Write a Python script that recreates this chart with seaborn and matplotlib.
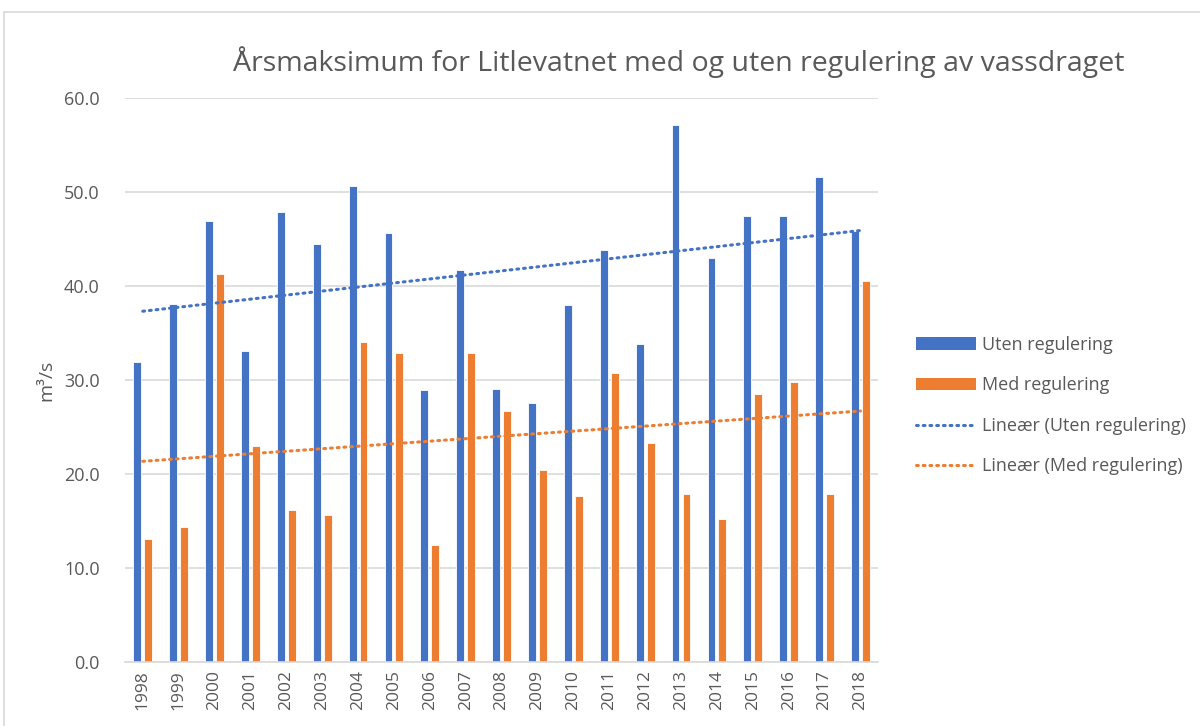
import numpy as np
import pandas as pd
import matplotlib
matplotlib.use("Agg")
import matplotlib.pyplot as plt
import seaborn as sns
from matplotlib.patches import Patch
from matplotlib.lines import Line2D


YEARS = [str(y) for y in range(1998, 2019)]
UTEN = [31.9, 38.1, 46.9, 33.1, 47.9, 44.5, 50.6, 45.6, 28.9, 41.7, 29.1,
        27.6, 38.0, 43.8, 33.8, 57.1, 43.0, 47.4, 47.4, 51.6, 45.9]
MED = [13.1, 14.4, 41.3, 23.0, 16.2, 15.6, 34.1, 32.9, 12.5, 32.9, 26.7,
       20.4, 17.7, 30.8, 23.3, 17.9, 15.2, 28.5, 29.8, 17.9, 40.5]
SERIES = ["Uten regulering", "Med regulering"]
COLORS = ["#4472C4", "#ED7D31"]
TEXT = "#595959"
GRID = "#D9D9D9"
DOTS = (0, (0.6, 1.6))


def build_frame():
    """Long format table for seaborn."""
    df = pd.DataFrame({"Year": YEARS, SERIES[0]: UTEN, SERIES[1]: MED})
    return df.melt(id_vars="Year", var_name="Serie", value_name="Flow")


def main():
    sns.set_theme(style="white")
    plt.rcParams["font.family"] = ["Open Sans", "DejaVu Sans"]

    fig = plt.figure(figsize=(12, 7.26), dpi=100)
    ax = fig.add_axes([0.104, 0.088, 0.628, 0.777])

    df = build_frame()
    sns.barplot(data=df, x="Year", y="Flow", hue="Serie", palette=COLORS,
                saturation=1, width=0.61, gap=0.28, edgecolor="white",
                linewidth=0.6, legend=False, ax=ax)

    # linear trend lines (Excel "Lineær")
    x = np.arange(len(YEARS))
    for vals, col in zip([UTEN, MED], COLORS):
        k, m = np.polyfit(x, vals, 1)
        ax.plot(x, k * x + m, color=col, linestyle=DOTS,
                linewidth=2.2, dash_capstyle="round", zorder=3)

    ax.set_ylim(0, 60)
    ax.set_xlim(-0.5, len(YEARS) - 0.5)
    ax.set_yticks(np.arange(0, 61, 10))
    ax.set_yticklabels([f"{v:.1f}" for v in np.arange(0, 61, 10)],
                       color=TEXT, fontsize=13)
    ax.tick_params(axis="x", rotation=90, labelsize=12.5, colors=TEXT,
                   length=0, pad=6)
    ax.tick_params(axis="y", length=0, pad=18)
    ax.grid(axis="y", color=GRID, linewidth=1.2)
    ax.set_axisbelow(True)
    for side in ["top", "right", "left"]:
        ax.spines[side].set_visible(False)
    ax.spines["bottom"].set_color(GRID)
    ax.spines["bottom"].set_linewidth(1.2)
    ax.set_xlabel("")
    ax.set_ylabel("m³/s", color=TEXT, fontsize=14, labelpad=6)

    fig.text(0.566, 0.914, "Årsmaksimum for Litlevatnet med og uten regulering av vassdraget",
             ha="center", va="center", fontsize=20.5, color=TEXT)

    handles = [
        Patch(facecolor=COLORS[0], edgecolor="none"),
        Patch(facecolor=COLORS[1], edgecolor="none"),
        Line2D([], [], color=COLORS[0], linestyle=DOTS, linewidth=2.2,
               dash_capstyle="round"),
        Line2D([], [], color=COLORS[1], linestyle=DOTS, linewidth=2.2,
               dash_capstyle="round"),
    ]
    labels = SERIES + ["Lineær (Uten regulering)", "Lineær (Med regulering)"]
    leg = fig.legend(handles, labels, loc="upper left",
                     bbox_to_anchor=(0.750, 0.560), frameon=False,
                     fontsize=13, handlelength=3.3, handletextpad=0.35,
                     labelspacing=1.25)
    for t in leg.get_texts():
        t.set_color(TEXT)

    # chart area border
    fig.add_artist(Line2D([0.0035, 1], [1 - 12 / 726] * 2, color=GRID,
                          linewidth=1.2, transform=fig.transFigure))
    fig.add_artist(Line2D([0.0035] * 2, [0, 1 - 12 / 726], color=GRID,
                          linewidth=1.2, transform=fig.transFigure))

    fig.savefig("out.png", dpi=100)


if __name__ == "__main__":
    main()
